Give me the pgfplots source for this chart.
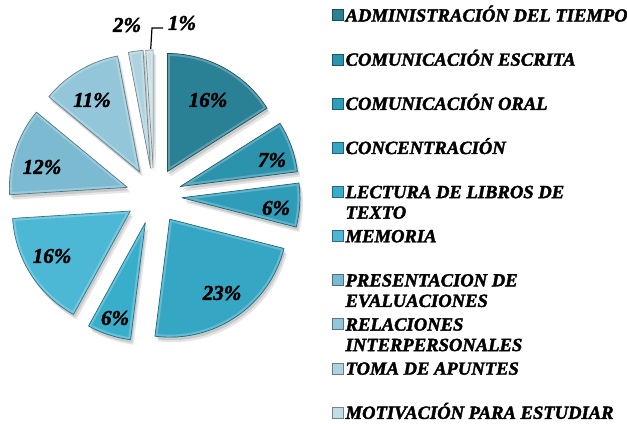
\documentclass[border=0pt]{standalone}
\usepackage{fontspec}
\setmainfont{Liberation Serif}[BoldFont={Liberation Serif Bold},ItalicFont={Liberation Serif Italic},BoldItalicFont={Liberation Serif Bold Italic},BoldItalicFeatures={FakeBold=2}]
\usepackage{pgfplots}
\usepackage{pgfplotstable}
\pgfplotsset{compat=1.18}

\definecolor{c0}{HTML}{2A8196}
\definecolor{c1}{HTML}{2C93AD}
\definecolor{c2}{HTML}{2F9DB9}
\definecolor{c3}{HTML}{35A6C3}
\definecolor{c4}{HTML}{39AECB}
\definecolor{c5}{HTML}{4CB8D5}
\definecolor{c6}{HTML}{7BBAD1}
\definecolor{c7}{HTML}{93C6D9}
\definecolor{c8}{HTML}{AED2DF}
\definecolor{c9}{HTML}{C3DDE5}

\newcommand\legfont{\fontsize{18.6bp}{20.5bp}\selectfont\bfseries\itshape}
\newcommand\labfont{\fontsize{21bp}{24bp}\selectfont\bfseries\itshape}
\newcommand\twoline[2]{\smash{\vtop{\hbox{#1}\hbox{#2}}}\strut}
\newcommand\oneline[1]{\smash{#1}\strut}

% value (%), label position (image px: x, y from top), colour
\pgfplotstableread{
value lx ly col
16 208 100 c0
7 272 160 c1
6 276 208 c2
23 222 293 c3
6 115 318 c4
16 52 256 c5
12 42 167 c6
11 92 100 c7
2 127 25 c8
1 182 23 c9
}\piedata

\def\pcx{154}\def\pcy{228}\def\pexp{28}\def\prad{118bp}

\begin{document}
\begin{tikzpicture}
\begin{axis}[
  anchor=south west, at={(0,0)},
  x=1bp, y=1bp, xmin=0, xmax=627, ymin=0, ymax=424,
  hide axis, clip=false, enlargelimits=false,
  legend style={at={(axis cs:332,417)}, anchor=north west, draw=none, fill=none,
    inner sep=0pt, row sep=28.3bp, column sep=2bp, cells={anchor=west},
    font=\legfont, nodes={inner sep=0pt}},
  legend image code/.code={\draw[#1] (0bp,-5.5bp) rectangle (11bp,5.5bp);},
]
% shadows
\gdef\pcum{0}
\pgfplotsforeachungrouped \rowi in {0,...,9}{%
  \pgfplotstablegetelem{\rowi}{value}\of\piedata \let\pval\pgfplotsretval
  \pgfmathsetmacro\sa{90-3.6*\pcum}%
  \pgfmathsetmacro\ea{90-3.6*(\pcum+\pval)}%
  \pgfmathsetmacro\ma{(\sa+\ea)/2}%
  \pgfmathsetmacro\ax{\pcx+\pexp*cos(\ma)}%
  \pgfmathsetmacro\ay{\pcy+\pexp*sin(\ma)}%
  \edef\tmp{%
    \noexpand\fill[black, opacity=0.12, xshift=1.5bp, yshift=-3bp] (axis cs:\ax,\ay) -- ++(\sa:\prad) arc[start angle=\sa, end angle=\ea, radius=\prad] -- cycle;
    \noexpand\fill[black, opacity=0.10, xshift=3bp, yshift=-5bp] (axis cs:\ax,\ay) -- ++(\sa:\prad) arc[start angle=\sa, end angle=\ea, radius=\prad] -- cycle;
  }\tmp
  \pgfmathsetmacro\newcum{\pcum+\pval}%
  \xdef\pcum{\newcum}%
}
% slices
\gdef\pcum{0}
\pgfplotsforeachungrouped \rowi in {0,...,9}{%
  \pgfplotstablegetelem{\rowi}{value}\of\piedata \let\pval\pgfplotsretval
  \pgfplotstablegetelem{\rowi}{col}\of\piedata \let\pcol\pgfplotsretval
  \pgfplotstablegetelem{\rowi}{lx}\of\piedata \let\plx\pgfplotsretval
  \pgfplotstablegetelem{\rowi}{ly}\of\piedata \let\ply\pgfplotsretval
  \pgfmathsetmacro\sa{90-3.6*\pcum}%
  \pgfmathsetmacro\ea{90-3.6*(\pcum+\pval)}%
  \pgfmathsetmacro\ma{(\sa+\ea)/2}%
  \pgfmathsetmacro\ax{\pcx+\pexp*cos(\ma)}%
  \pgfmathsetmacro\ay{\pcy+\pexp*sin(\ma)}%
  \pgfmathsetmacro\lyy{424-\ply}%
  \edef\tmp{%
    \noexpand\begin{scope}
    \noexpand\clip (axis cs:\ax,\ay) -- ++(\sa:\prad) arc[start angle=\sa, end angle=\ea, radius=\prad] -- cycle;
    \noexpand\fill[\pcol] (axis cs:\ax,\ay) -- ++(\sa:\prad) arc[start angle=\sa, end angle=\ea, radius=\prad] -- cycle;
    \noexpand\draw[\pcol!60!white, opacity=0.6, line width=5bp, line join=round] (axis cs:\ax,\ay) -- ++(\sa:\prad) arc[start angle=\sa, end angle=\ea, radius=\prad] -- cycle;
    \noexpand\end{scope}
    \noexpand\draw[\pcol!65!black, line width=0.7bp, line join=round] (axis cs:\ax,\ay) -- ++(\sa:\prad) arc[start angle=\sa, end angle=\ea, radius=\prad] -- cycle;
    \noexpand\node[font=\noexpand\labfont, inner sep=0pt] at (axis cs:\plx,\lyy) {\pval\noexpand\%};
  }\tmp
  \pgfmathsetmacro\newcum{\pcum+\pval}%
  \xdef\pcum{\newcum}%
}
% leader line for 1%
\draw[black, line width=1.2bp] (axis cs:150.7,375) -- (axis cs:152,396) -- (axis cs:163,396);

\addlegendimage{fill=c0, draw=c0!60!black}
\addlegendentry{\oneline{ADMINISTRACIÓN DEL TIEMPO}}
\addlegendimage{fill=c1, draw=c1!60!black}
\addlegendentry{\oneline{COMUNICACIÓN ESCRITA}}
\addlegendimage{fill=c2, draw=c2!60!black}
\addlegendentry{\oneline{COMUNICACIÓN ORAL}}
\addlegendimage{fill=c3, draw=c3!60!black}
\addlegendentry{\oneline{CONCENTRACIÓN}}
\addlegendimage{fill=c4, draw=c4!60!black}
\addlegendentry{\twoline{LECTURA DE LIBROS DE}{TEXTO}}
\addlegendimage{fill=c5, draw=c5!60!black}
\addlegendentry{\oneline{MEMORIA}}
\addlegendimage{fill=c6, draw=c6!60!black}
\addlegendentry{\twoline{PRESENTACION DE}{EVALUACIONES}}
\addlegendimage{fill=c7, draw=c7!60!black}
\addlegendentry{\twoline{RELACIONES}{INTERPERSONALES}}
\addlegendimage{fill=c8, draw=c8!60!black}
\addlegendentry{\oneline{TOMA DE APUNTES}}
\addlegendimage{fill=c9, draw=c9!60!black}
\addlegendentry{\oneline{MOTIVACIÓN PARA ESTUDIAR}}
\end{axis}
\pgfresetboundingbox
\path[use as bounding box] (0,0) rectangle (627bp,424bp);
\end{tikzpicture}
\end{document}
